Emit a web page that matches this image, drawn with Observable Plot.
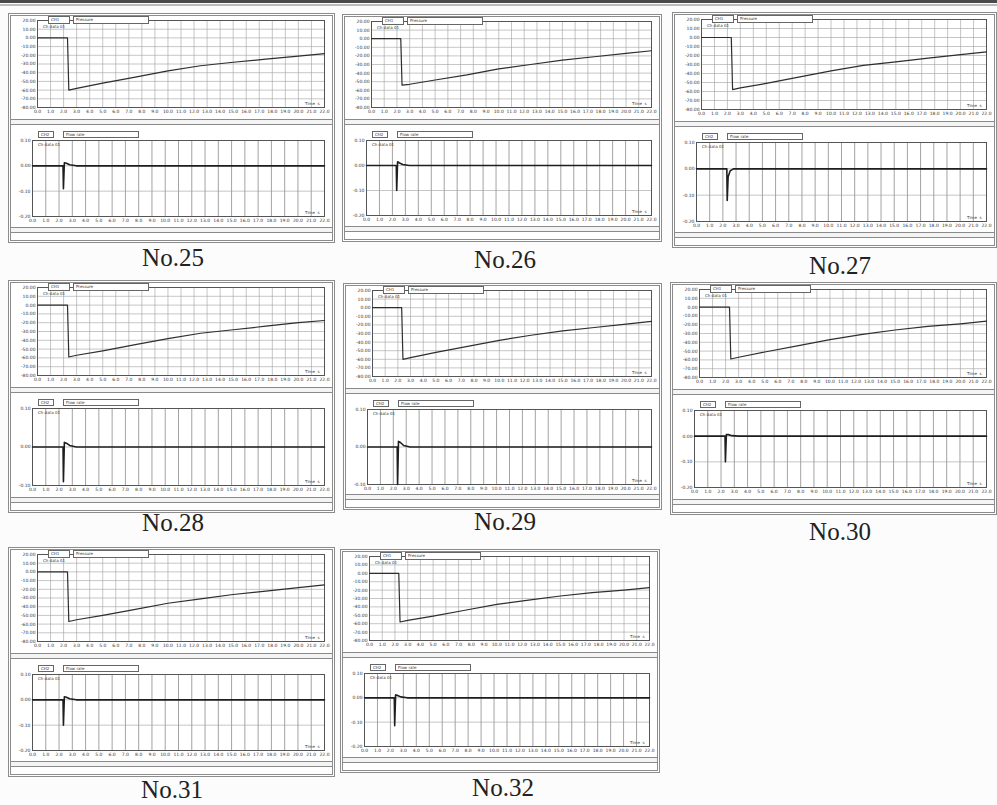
<!DOCTYPE html>
<html><head><meta charset="utf-8">
<script src="https://cdn.jsdelivr.net/npm/d3@7"></script>
<script src="https://cdn.jsdelivr.net/npm/@observablehq/plot@0.6"></script>
<style>
body{margin:0;background:#fff;}
#page{position:relative;width:997px;height:805px;overflow:hidden;background:#fcfcfc;font-family:"DejaVu Sans",sans-serif;}
.topbar{position:absolute;left:0;top:0;width:997px;height:3px;background:#4a4a4a;}
.topbar2{position:absolute;left:0;top:4px;width:997px;height:2px;background:#bbb;}
.panel{position:absolute;box-sizing:border-box;border:3px double #8c8c8c;background:#fff;overflow:hidden;}
.chart{position:absolute;left:0;}
.band{position:absolute;left:0;right:0;box-sizing:border-box;border-top:1px solid #8a8a8a;border-bottom:1px solid #8a8a8a;background:#f4f4f4;}
.tab{position:absolute;box-sizing:border-box;border:1px solid #666;background:#fff;font-size:4px;line-height:5px;color:#333;padding-left:2px;white-space:nowrap;overflow:hidden;}
.leg{position:absolute;font-size:4px;line-height:5px;color:#333;white-space:nowrap;}
.label{position:absolute;font-family:"Liberation Serif","DejaVu Serif",serif;font-size:25px;color:#222;transform:translate(-50%,-50%);white-space:nowrap;}
</style>
</head><body>
<div id="page"><div class="topbar"></div><div class="topbar2"></div></div>
<script>
// ---- data ----
const panelNames = ["No.25","No.26","No.27","No.28","No.29","No.30","No.31","No.32"];
const time = [0, 2.3, 2.4, 3, 5, 7.5, 10, 12.5, 15, 17.5, 20, 22];
const top25 = [0, 0, -60, -58, -52, -45, -38, -32, -28, -24.5, -21, -18];
const top26 = [0, 0, -54, -53, -48, -42, -35, -30, -25, -21, -17, -14];
const top27 = [0, 0, -58, -56, -51, -44, -37, -31, -27, -23, -19, -16];
const top28 = [0, 0, -59, -57, -52, -45, -38, -32, -28, -24, -20, -17.5];
const top29 = [0, 0, -60, -58, -52, -45, -38, -32, -27, -23, -19, -16];
const top30 = [0, 0, -59, -57, -51, -44, -37, -31, -26, -22, -19, -16];
const top31 = [0, 0, -57, -55, -50, -43, -36, -31, -26, -22, -18, -15];
const top32 = [0, 0, -58, -56, -51, -44, -37, -32, -27, -23, -20, -17];
const topSeries = [top25, top26, top27, top28, top29, top30, top31, top32];

const spikeTime = [0, 2.3, 2.33, 2.4, 2.55, 2.8, 3.3, 22];
const low25 = [0, 0, -0.09, 0.012, 0.01, 0.004, 0, 0];
const low26 = [0, 0, -0.10, 0.015, 0.01, 0.004, 0, 0];
const low27 = [0, 0, -0.12, -0.03, -0.008, 0, 0, 0];
const low28 = [0, 0, -0.09, 0.012, 0.01, 0.004, 0, 0];
const low29 = [0, 0, -0.10, 0.015, 0.012, 0.004, 0, 0];
const low30 = [0, 0, -0.10, 0.006, 0.006, 0.002, 0, 0];
const low31 = [0, 0, -0.10, 0.012, 0.01, 0.004, 0, 0];
const low32 = [0, 0, -0.115, 0.012, 0.01, 0.004, 0, 0];
const lowSeries = [low25, low26, low27, low28, low29, low30, low31, low32];

const timeTicks = d3.range(0, 23, 1);
const topTicks = [20, 10, 0, -10, -20, -30, -40, -50, -60, -70, -80];
const lowTicks4 = [0.1, 0, -0.1, -0.2];
const lowTicks3 = [0.1, 0, -0.1];
const lowTickSets = [lowTicks4, lowTicks4, lowTicks4, lowTicks3, lowTicks3, lowTicks4, lowTicks4, lowTicks4];
const topTabText = ["CH1", "Pressure"];
const lowTabText = ["CH2", "Flow rate"];
const legendText = "Ch data 01";
const timeLabel = "Time  s";

// ---- layout (positions only) ----
const layout = [
  {x:8,   y:13,  w:327, h:230, lx:173, ly:258},
  {x:342, y:14,  w:320, h:228, lx:505, ly:260},
  {x:672, y:12,  w:325, h:236, lx:840, ly:266},
  {x:8,   y:280, w:327, h:233, lx:173, ly:523},
  {x:343, y:283, w:319, h:227, lx:505, ly:522},
  {x:670, y:282, w:327, h:233, lx:840, ly:532},
  {x:8,   y:547, w:327, h:230, lx:172, ly:790},
  {x:340, y:549, w:320, h:224, lx:503, ly:788}
];

function topChart(vals, w, h) {
  const data = time.map((t, i) => ({t, v: vals[i]}));
  return Plot.plot({
    width: w, height: h,
    marginLeft: 26, marginRight: 8, marginTop: 4, marginBottom: 9,
    style: {background: "transparent", fontSize: "4.5px", color: "#333", fontFamily: "DejaVu Sans"},
    x: {domain: [0, 22], ticks: timeTicks, tickFormat: d => d.toFixed(1), tickSize: 0, tickPadding: 2, label: null},
    y: {domain: [-80, 20], ticks: topTicks, tickFormat: d => d.toFixed(2), tickSize: 0, tickPadding: 2, label: null},
    marks: [
      Plot.ruleX(timeTicks, {stroke: "#a0a0a0", strokeWidth: 0.6}),
      Plot.ruleY(topTicks, {stroke: "#a0a0a0", strokeWidth: 0.6}),
      Plot.frame({stroke: "#555", strokeWidth: 1}),
      Plot.line(data, {x: "t", y: "v", stroke: "#2e2e2e", strokeWidth: 1.2}),
      Plot.text([timeLabel], {frameAnchor: "bottom-right", dx: -5, dy: -3, fontSize: 4, fill: "#333"})
    ]
  });
}

function lowChart(vals, ticks, w, h) {
  const data = spikeTime.map((t, i) => ({t, v: vals[i]}));
  const dom = [ticks[ticks.length - 1], ticks[0]];
  return Plot.plot({
    width: w, height: h,
    marginLeft: 21, marginRight: 8, marginTop: 12, marginBottom: 10,
    style: {background: "transparent", fontSize: "4.5px", color: "#333", fontFamily: "DejaVu Sans"},
    x: {domain: [0, 22], ticks: timeTicks, tickFormat: d => d.toFixed(1), tickSize: 0, tickPadding: 2, label: null},
    y: {domain: dom, ticks: ticks, tickFormat: d => d.toFixed(2), tickSize: 0, tickPadding: 2, label: null},
    marks: [
      Plot.ruleX(timeTicks, {stroke: "#8c8c8c", strokeWidth: 0.8}),
      Plot.ruleY(ticks, {stroke: "#a0a0a0", strokeWidth: 0.6}),
      Plot.frame({stroke: "#555", strokeWidth: 1}),
      Plot.line(data, {x: "t", y: "v", stroke: "#1e1e1e", strokeWidth: 1.6}),
      Plot.text([timeLabel], {frameAnchor: "bottom-right", dx: -5, dy: -3, fontSize: 4, fill: "#333"})
    ]
  });
}

const page = document.getElementById("page");
function add(parent, cls, style, text) {
  const d = document.createElement("div");
  d.className = cls;
  Object.assign(d.style, style);
  if (text) d.textContent = text;
  parent.appendChild(d);
  return d;
}

panelNames.forEach((name, i) => {
  const L = layout[i];
  const s = L.h / 230;
  const p = add(page, "panel", {left: L.x + "px", top: L.y + "px", width: L.w + "px", height: L.h + "px"});
  const iw = L.w - 6;
  const topH = Math.round(100 * s);
  const t = topChart(topSeries[i], iw, topH);
  t.classList.add("chart"); t.style.top = "0px";
  p.appendChild(t);
  add(p, "band", {top: Math.round(103 * s) + "px", height: "6px"});
  const lowTop = Math.round(112 * s);
  const lowH = Math.round(98 * s);
  const b = lowChart(lowSeries[i], lowTickSets[i], iw, lowH);
  b.classList.add("chart"); b.style.top = lowTop + "px";
  p.appendChild(b);
  add(p, "band", {top: Math.round(211 * s) + "px", height: "6px"});
  // tabs
  add(p, "tab", {left: "37px", top: "0px", width: "22px", height: "8px"}, topTabText[0]);
  add(p, "tab", {left: "62px", top: "0px", width: "76px", height: "8px"}, topTabText[1]);
  add(p, "leg", {left: "32px", top: "8px"}, legendText);
  add(p, "tab", {left: "27px", top: (lowTop + 3) + "px", width: "16px", height: "7px"}, lowTabText[0]);
  add(p, "tab", {left: "52px", top: (lowTop + 3) + "px", width: "76px", height: "7px"}, lowTabText[1]);
  add(p, "leg", {left: "27px", top: (lowTop + 14) + "px"}, legendText);
  add(page, "label", {left: L.lx + "px", top: L.ly + "px"}, name);
});
</script>
</body></html>
